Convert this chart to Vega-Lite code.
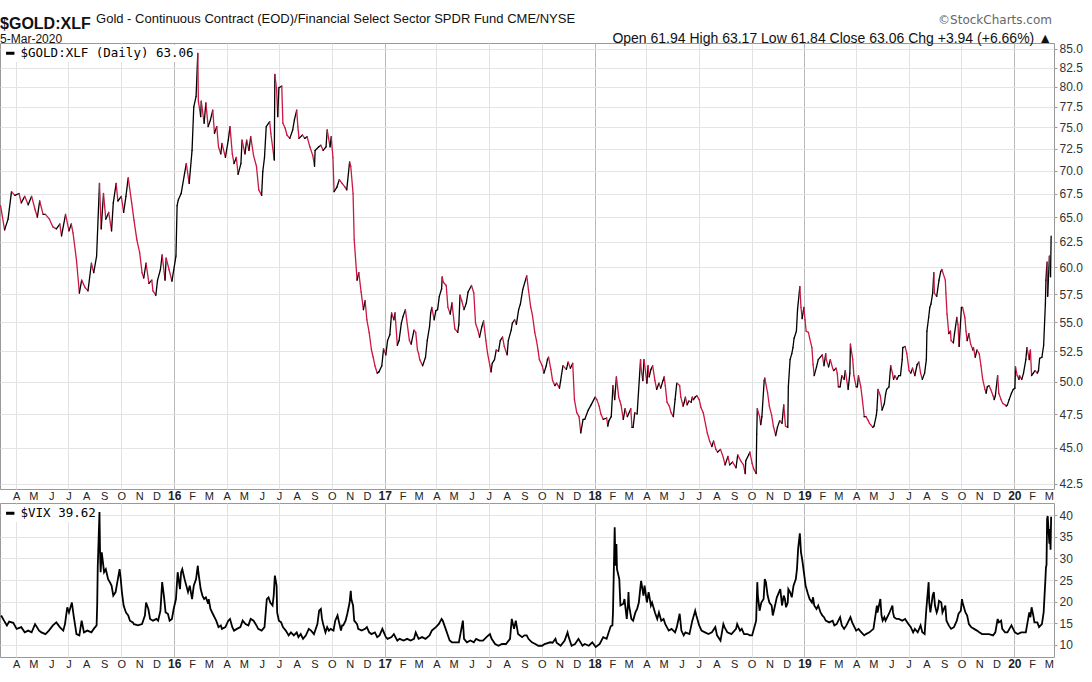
{
"$schema": "https://vega.github.io/schema/vega-lite/v6.json",
"padding": {"left": -3, "top": 13, "right": 0, "bottom": 0},
"background": "white",
"datasets": {
"gold": [
{"date":"2015-03-05","v":66.2},{"date":"2015-03-12","v":63.7},{"date":"2015-03-18","v":64.8},{"date":"2015-03-24","v":67.7},{"date":"2015-03-30","v":67.3},
{"date":"2015-04-06","v":67.5},{"date":"2015-04-10","v":66.5},{"date":"2015-04-16","v":67.2},{"date":"2015-04-22","v":66.3},{"date":"2015-04-28","v":67.2},
{"date":"2015-05-04","v":65.8},{"date":"2015-05-08","v":65.0},{"date":"2015-05-12","v":66.7},{"date":"2015-05-18","v":65.3},{"date":"2015-05-22","v":65.3},{"date":"2015-05-29","v":64.8},
{"date":"2015-06-04","v":64.0},{"date":"2015-06-10","v":63.8},{"date":"2015-06-16","v":64.3},{"date":"2015-06-19","v":63.1},{"date":"2015-06-26","v":65.3},
{"date":"2015-07-02","v":63.6},{"date":"2015-07-06","v":64.3},{"date":"2015-07-09","v":63.4},{"date":"2015-07-15","v":60.7},{"date":"2015-07-20","v":57.6},{"date":"2015-07-24","v":58.8},{"date":"2015-07-30","v":58.1},
{"date":"2015-08-04","v":57.8},{"date":"2015-08-10","v":60.4},{"date":"2015-08-14","v":59.5},{"date":"2015-08-19","v":61.1},{"date":"2015-08-24","v":68.6},{"date":"2015-08-27","v":63.8},{"date":"2015-08-31","v":67.5},
{"date":"2015-09-04","v":64.8},{"date":"2015-09-09","v":65.5},{"date":"2015-09-14","v":63.6},{"date":"2015-09-17","v":66.5},{"date":"2015-09-22","v":68.6},{"date":"2015-09-25","v":66.7},
{"date":"2015-10-01","v":67.2},{"date":"2015-10-05","v":65.5},{"date":"2015-10-09","v":67.2},{"date":"2015-10-13","v":69.2},{"date":"2015-10-19","v":66.5},{"date":"2015-10-23","v":64.7},{"date":"2015-10-28","v":62.7},
{"date":"2015-11-02","v":61.4},{"date":"2015-11-06","v":59.5},{"date":"2015-11-09","v":59.0},{"date":"2015-11-13","v":60.4},{"date":"2015-11-18","v":58.5},{"date":"2015-11-23","v":58.8},{"date":"2015-11-25","v":57.8},{"date":"2015-11-30","v":57.4},
{"date":"2015-12-03","v":58.8},{"date":"2015-12-08","v":59.8},{"date":"2015-12-11","v":61.2},{"date":"2015-12-16","v":58.8},{"date":"2015-12-18","v":60.9},{"date":"2015-12-23","v":59.8},{"date":"2015-12-28","v":58.7},
{"date":"2016-01-04","v":61.1},{"date":"2016-01-06","v":66.2},{"date":"2016-01-08","v":66.8},{"date":"2016-01-13","v":67.5},{"date":"2016-01-19","v":69.7},{"date":"2016-01-22","v":70.8},{"date":"2016-01-27","v":68.6},
{"date":"2016-02-01","v":72.3},{"date":"2016-02-04","v":77.5},{"date":"2016-02-08","v":78.8},{"date":"2016-02-11","v":84.4},{"date":"2016-02-12","v":78.2},{"date":"2016-02-16","v":76.3},{"date":"2016-02-17","v":78.2},{"date":"2016-02-22","v":75.5},{"date":"2016-02-25","v":78.0},{"date":"2016-02-29","v":75.1},
{"date":"2016-03-04","v":75.9},{"date":"2016-03-08","v":77.1},{"date":"2016-03-11","v":74.3},{"date":"2016-03-15","v":75.1},{"date":"2016-03-18","v":72.7},{"date":"2016-03-22","v":71.9},{"date":"2016-03-24","v":73.1},{"date":"2016-03-30","v":71.5},
{"date":"2016-04-04","v":73.5},{"date":"2016-04-07","v":75.1},{"date":"2016-04-11","v":71.9},{"date":"2016-04-14","v":70.8},{"date":"2016-04-18","v":71.5},{"date":"2016-04-21","v":69.6},{"date":"2016-04-26","v":70.8},{"date":"2016-04-28","v":73.5},
{"date":"2016-05-03","v":71.9},{"date":"2016-05-06","v":73.5},{"date":"2016-05-10","v":72.3},{"date":"2016-05-13","v":73.9},{"date":"2016-05-18","v":71.7},{"date":"2016-05-23","v":70.5},{"date":"2016-05-27","v":67.9},
{"date":"2016-06-01","v":67.3},{"date":"2016-06-03","v":69.9},{"date":"2016-06-06","v":71.5},{"date":"2016-06-09","v":75.1},{"date":"2016-06-15","v":75.7},{"date":"2016-06-17","v":74.3},{"date":"2016-06-23","v":71.2},{"date":"2016-06-24","v":81.6},{"date":"2016-06-27","v":79.7},{"date":"2016-06-29","v":76.3},
{"date":"2016-07-01","v":79.9},{"date":"2016-07-06","v":80.1},{"date":"2016-07-08","v":75.5},{"date":"2016-07-12","v":74.9},{"date":"2016-07-15","v":74.1},{"date":"2016-07-20","v":73.7},{"date":"2016-07-25","v":74.7},{"date":"2016-07-28","v":75.9},
{"date":"2016-08-01","v":77.1},{"date":"2016-08-03","v":75.1},{"date":"2016-08-05","v":73.7},{"date":"2016-08-11","v":74.1},{"date":"2016-08-15","v":73.7},{"date":"2016-08-19","v":73.9},{"date":"2016-08-24","v":72.7},{"date":"2016-08-29","v":71.7},
{"date":"2016-09-01","v":70.5},{"date":"2016-09-02","v":72.3},{"date":"2016-09-08","v":72.7},{"date":"2016-09-12","v":72.9},{"date":"2016-09-16","v":72.3},{"date":"2016-09-21","v":72.7},{"date":"2016-09-23","v":74.7},{"date":"2016-09-28","v":72.7},{"date":"2016-09-30","v":73.9},
{"date":"2016-10-03","v":71.5},{"date":"2016-10-05","v":67.7},{"date":"2016-10-10","v":68.2},{"date":"2016-10-14","v":69.0},{"date":"2016-10-19","v":68.6},{"date":"2016-10-24","v":68.2},{"date":"2016-10-27","v":67.9},
{"date":"2016-11-01","v":71.0},{"date":"2016-11-03","v":70.5},{"date":"2016-11-07","v":67.5},{"date":"2016-11-09","v":62.7},{"date":"2016-11-14","v":58.8},{"date":"2016-11-17","v":59.5},{"date":"2016-11-21","v":57.7},{"date":"2016-11-25","v":56.1},{"date":"2016-11-28","v":56.9},
{"date":"2016-12-01","v":55.2},{"date":"2016-12-05","v":54.1},{"date":"2016-12-09","v":52.6},{"date":"2016-12-12","v":52.0},{"date":"2016-12-15","v":51.3},{"date":"2016-12-19","v":50.7},{"date":"2016-12-22","v":50.8},{"date":"2016-12-27","v":51.3},{"date":"2016-12-30","v":52.7},
{"date":"2017-01-03","v":52.2},{"date":"2017-01-06","v":53.4},{"date":"2017-01-10","v":53.9},{"date":"2017-01-13","v":55.8},{"date":"2017-01-17","v":55.2},{"date":"2017-01-19","v":55.8},{"date":"2017-01-23","v":53.0},{"date":"2017-01-26","v":53.4},{"date":"2017-01-30","v":54.9},
{"date":"2017-02-02","v":55.5},{"date":"2017-02-06","v":56.1},{"date":"2017-02-13","v":53.4},{"date":"2017-02-16","v":53.1},{"date":"2017-02-21","v":54.3},{"date":"2017-02-24","v":54.1},{"date":"2017-02-27","v":52.6},
{"date":"2017-03-01","v":52.3},{"date":"2017-03-03","v":51.8},{"date":"2017-03-08","v":51.3},{"date":"2017-03-13","v":52.0},{"date":"2017-03-16","v":53.4},{"date":"2017-03-20","v":54.6},{"date":"2017-03-22","v":55.8},{"date":"2017-03-24","v":56.3},{"date":"2017-03-28","v":55.2},{"date":"2017-03-31","v":56.0},
{"date":"2017-04-03","v":56.1},{"date":"2017-04-06","v":57.3},{"date":"2017-04-10","v":58.0},{"date":"2017-04-11","v":59.1},{"date":"2017-04-13","v":58.6},{"date":"2017-04-18","v":58.3},{"date":"2017-04-21","v":56.3},{"date":"2017-04-25","v":55.7},{"date":"2017-04-28","v":56.7},
{"date":"2017-05-03","v":54.4},{"date":"2017-05-08","v":54.1},{"date":"2017-05-10","v":54.8},{"date":"2017-05-12","v":57.4},{"date":"2017-05-15","v":56.9},{"date":"2017-05-19","v":56.1},{"date":"2017-05-23","v":56.7},{"date":"2017-05-26","v":57.7},
{"date":"2017-06-01","v":58.3},{"date":"2017-06-05","v":57.6},{"date":"2017-06-08","v":54.9},{"date":"2017-06-12","v":54.3},{"date":"2017-06-15","v":53.7},{"date":"2017-06-19","v":54.6},{"date":"2017-06-22","v":55.1},{"date":"2017-06-26","v":53.4},{"date":"2017-06-29","v":52.3},
{"date":"2017-07-03","v":51.3},{"date":"2017-07-05","v":50.8},{"date":"2017-07-07","v":51.5},{"date":"2017-07-11","v":51.8},{"date":"2017-07-14","v":52.6},{"date":"2017-07-18","v":52.5},{"date":"2017-07-21","v":53.4},{"date":"2017-07-25","v":53.7},{"date":"2017-07-28","v":52.9},
{"date":"2017-08-02","v":52.2},{"date":"2017-08-04","v":53.4},{"date":"2017-08-09","v":54.3},{"date":"2017-08-11","v":54.9},{"date":"2017-08-15","v":55.2},{"date":"2017-08-18","v":54.8},{"date":"2017-08-22","v":56.1},{"date":"2017-08-25","v":56.6},{"date":"2017-08-29","v":57.9},
{"date":"2017-09-05","v":59.2},{"date":"2017-09-06","v":58.8},{"date":"2017-09-08","v":57.9},{"date":"2017-09-12","v":56.3},{"date":"2017-09-15","v":55.6},{"date":"2017-09-19","v":54.1},{"date":"2017-09-22","v":53.4},{"date":"2017-09-25","v":52.5},{"date":"2017-09-27","v":51.8},
{"date":"2017-10-02","v":51.3},{"date":"2017-10-05","v":50.7},{"date":"2017-10-09","v":51.3},{"date":"2017-10-11","v":51.8},{"date":"2017-10-13","v":52.0},{"date":"2017-10-17","v":51.0},{"date":"2017-10-20","v":50.1},{"date":"2017-10-24","v":49.7},{"date":"2017-10-27","v":49.9},
{"date":"2017-11-01","v":49.5},{"date":"2017-11-03","v":50.1},{"date":"2017-11-07","v":51.3},{"date":"2017-11-13","v":51.0},{"date":"2017-11-16","v":51.6},{"date":"2017-11-20","v":51.1},{"date":"2017-11-24","v":51.5},{"date":"2017-11-27","v":48.6},
{"date":"2017-12-01","v":47.6},{"date":"2017-12-05","v":47.3},{"date":"2017-12-08","v":46.1},{"date":"2017-12-12","v":47.1},{"date":"2017-12-15","v":47.1},{"date":"2017-12-21","v":47.8},{"date":"2017-12-26","v":48.2},
{"date":"2018-01-02","v":48.8},{"date":"2018-01-05","v":48.6},{"date":"2018-01-09","v":48.1},{"date":"2018-01-12","v":47.5},{"date":"2018-01-16","v":47.1},{"date":"2018-01-22","v":47.2},{"date":"2018-01-24","v":46.6},{"date":"2018-01-26","v":47.0},{"date":"2018-01-30","v":47.3},
{"date":"2018-02-02","v":49.7},{"date":"2018-02-05","v":48.6},{"date":"2018-02-08","v":50.4},{"date":"2018-02-12","v":48.8},{"date":"2018-02-14","v":48.5},{"date":"2018-02-16","v":48.2},{"date":"2018-02-20","v":47.1},{"date":"2018-02-23","v":47.9},{"date":"2018-02-27","v":47.3},
{"date":"2018-03-05","v":47.9},{"date":"2018-03-07","v":46.5},{"date":"2018-03-09","v":46.5},{"date":"2018-03-12","v":47.6},{"date":"2018-03-16","v":47.5},{"date":"2018-03-22","v":51.8},{"date":"2018-03-23","v":51.0},{"date":"2018-03-26","v":50.1},{"date":"2018-03-28","v":51.8},
{"date":"2018-04-02","v":49.9},{"date":"2018-04-04","v":51.3},{"date":"2018-04-06","v":50.4},{"date":"2018-04-09","v":51.0},{"date":"2018-04-12","v":51.3},{"date":"2018-04-16","v":50.1},{"date":"2018-04-19","v":49.4},{"date":"2018-04-23","v":49.9},{"date":"2018-04-26","v":49.5},{"date":"2018-04-30","v":50.1},
{"date":"2018-05-02","v":50.4},{"date":"2018-05-04","v":49.7},{"date":"2018-05-07","v":48.4},{"date":"2018-05-11","v":48.1},{"date":"2018-05-14","v":47.6},{"date":"2018-05-18","v":47.3},{"date":"2018-05-21","v":48.6},{"date":"2018-05-24","v":49.9},{"date":"2018-05-29","v":49.7},{"date":"2018-05-31","v":48.8},
{"date":"2018-06-04","v":48.1},{"date":"2018-06-06","v":48.4},{"date":"2018-06-08","v":48.8},{"date":"2018-06-11","v":48.2},{"date":"2018-06-14","v":48.5},{"date":"2018-06-18","v":48.4},{"date":"2018-06-20","v":48.8},{"date":"2018-06-22","v":48.6},{"date":"2018-06-25","v":48.8},{"date":"2018-06-28","v":48.9},
{"date":"2018-07-02","v":48.6},{"date":"2018-07-05","v":48.0},{"date":"2018-07-09","v":47.6},{"date":"2018-07-16","v":46.1},{"date":"2018-07-20","v":45.5},{"date":"2018-07-24","v":45.1},{"date":"2018-07-27","v":45.5},{"date":"2018-07-31","v":44.9},
{"date":"2018-08-03","v":44.7},{"date":"2018-08-08","v":44.9},{"date":"2018-08-13","v":44.3},{"date":"2018-08-16","v":43.8},{"date":"2018-08-21","v":44.4},{"date":"2018-08-24","v":43.8},{"date":"2018-08-29","v":44.0},
{"date":"2018-09-04","v":43.6},{"date":"2018-09-07","v":44.5},{"date":"2018-09-12","v":44.1},{"date":"2018-09-17","v":43.8},{"date":"2018-09-20","v":43.2},{"date":"2018-09-21","v":44.1},{"date":"2018-09-26","v":44.5},{"date":"2018-09-28","v":44.7},
{"date":"2018-10-02","v":43.9},{"date":"2018-10-05","v":43.5},{"date":"2018-10-09","v":43.2},{"date":"2018-10-10","v":46.0},{"date":"2018-10-11","v":47.9},{"date":"2018-10-15","v":47.3},{"date":"2018-10-17","v":46.7},{"date":"2018-10-19","v":47.3},{"date":"2018-10-23","v":50.1},{"date":"2018-10-24","v":50.3},{"date":"2018-10-29","v":49.1},
{"date":"2018-11-01","v":48.1},{"date":"2018-11-05","v":47.4},{"date":"2018-11-08","v":46.6},{"date":"2018-11-12","v":45.9},{"date":"2018-11-15","v":46.5},{"date":"2018-11-19","v":47.0},{"date":"2018-11-23","v":46.8},{"date":"2018-11-26","v":48.2},{"date":"2018-11-29","v":46.6},
{"date":"2018-12-03","v":46.5},{"date":"2018-12-04","v":49.6},{"date":"2018-12-07","v":51.8},{"date":"2018-12-10","v":52.3},{"date":"2018-12-12","v":52.8},{"date":"2018-12-14","v":53.6},{"date":"2018-12-18","v":54.2},{"date":"2018-12-20","v":56.1},{"date":"2018-12-24","v":58.2},{"date":"2018-12-26","v":56.3},{"date":"2018-12-28","v":55.3},{"date":"2018-12-31","v":56.3},
{"date":"2019-01-02","v":55.2},{"date":"2019-01-04","v":54.2},{"date":"2019-01-08","v":54.1},{"date":"2019-01-10","v":53.6},{"date":"2019-01-14","v":52.8},{"date":"2019-01-16","v":51.4},{"date":"2019-01-18","v":50.5},{"date":"2019-01-22","v":51.2},{"date":"2019-01-25","v":51.8},
{"date":"2019-02-01","v":52.2},{"date":"2019-02-04","v":51.3},{"date":"2019-02-07","v":52.3},{"date":"2019-02-08","v":51.8},{"date":"2019-02-12","v":51.2},{"date":"2019-02-15","v":51.8},{"date":"2019-02-19","v":51.1},{"date":"2019-02-21","v":50.9},{"date":"2019-02-25","v":51.1},{"date":"2019-02-27","v":50.7},
{"date":"2019-03-01","v":49.6},{"date":"2019-03-04","v":49.6},{"date":"2019-03-07","v":50.5},{"date":"2019-03-11","v":50.2},{"date":"2019-03-13","v":50.9},{"date":"2019-03-18","v":49.4},{"date":"2019-03-21","v":50.7},{"date":"2019-03-22","v":53.1},{"date":"2019-03-26","v":51.8},{"date":"2019-03-28","v":50.5},
{"date":"2019-04-01","v":49.6},{"date":"2019-04-03","v":49.6},{"date":"2019-04-05","v":50.5},{"date":"2019-04-09","v":49.6},{"date":"2019-04-12","v":48.5},{"date":"2019-04-15","v":47.3},{"date":"2019-04-18","v":47.3},{"date":"2019-04-22","v":47.0},{"date":"2019-04-24","v":46.8},{"date":"2019-04-26","v":46.7},{"date":"2019-04-30","v":46.5},
{"date":"2019-05-02","v":46.6},{"date":"2019-05-06","v":47.4},{"date":"2019-05-07","v":47.8},{"date":"2019-05-09","v":49.4},{"date":"2019-05-13","v":48.9},{"date":"2019-05-16","v":47.8},{"date":"2019-05-20","v":48.3},{"date":"2019-05-22","v":49.0},{"date":"2019-05-24","v":49.4},{"date":"2019-05-28","v":49.6},{"date":"2019-05-31","v":51.3},
{"date":"2019-06-03","v":50.7},{"date":"2019-06-05","v":50.2},{"date":"2019-06-07","v":50.5},{"date":"2019-06-11","v":50.2},{"date":"2019-06-14","v":50.5},{"date":"2019-06-17","v":50.5},{"date":"2019-06-20","v":51.8},{"date":"2019-06-21","v":52.8},{"date":"2019-06-25","v":52.9},{"date":"2019-06-28","v":52.3},
{"date":"2019-07-02","v":50.9},{"date":"2019-07-05","v":50.7},{"date":"2019-07-08","v":51.1},{"date":"2019-07-10","v":50.8},{"date":"2019-07-12","v":50.5},{"date":"2019-07-16","v":51.4},{"date":"2019-07-19","v":51.6},{"date":"2019-07-22","v":50.7},{"date":"2019-07-25","v":50.2},{"date":"2019-07-29","v":50.7},
{"date":"2019-08-01","v":51.8},{"date":"2019-08-02","v":54.2},{"date":"2019-08-05","v":55.4},{"date":"2019-08-07","v":56.3},{"date":"2019-08-09","v":56.6},{"date":"2019-08-12","v":57.6},{"date":"2019-08-14","v":59.5},{"date":"2019-08-15","v":57.6},{"date":"2019-08-19","v":57.3},{"date":"2019-08-23","v":58.8},{"date":"2019-08-26","v":59.6},{"date":"2019-08-28","v":59.8},
{"date":"2019-09-03","v":58.8},{"date":"2019-09-04","v":57.6},{"date":"2019-09-06","v":55.7},{"date":"2019-09-09","v":54.0},{"date":"2019-09-12","v":54.2},{"date":"2019-09-13","v":53.4},{"date":"2019-09-17","v":53.2},{"date":"2019-09-19","v":54.0},{"date":"2019-09-23","v":55.4},{"date":"2019-09-25","v":54.8},{"date":"2019-09-27","v":52.9},
{"date":"2019-10-01","v":56.3},{"date":"2019-10-03","v":56.3},{"date":"2019-10-07","v":55.4},{"date":"2019-10-09","v":54.2},{"date":"2019-10-11","v":53.4},{"date":"2019-10-14","v":54.0},{"date":"2019-10-17","v":53.1},{"date":"2019-10-21","v":52.6},{"date":"2019-10-22","v":52.8},{"date":"2019-10-25","v":52.0},{"date":"2019-10-28","v":52.6},
{"date":"2019-11-01","v":52.3},{"date":"2019-11-04","v":51.3},{"date":"2019-11-07","v":50.2},{"date":"2019-11-11","v":49.4},{"date":"2019-11-13","v":49.1},{"date":"2019-11-15","v":49.6},{"date":"2019-11-18","v":49.7},{"date":"2019-11-21","v":49.4},{"date":"2019-11-25","v":48.9},{"date":"2019-11-27","v":48.6},{"date":"2019-11-29","v":48.9},
{"date":"2019-12-03","v":50.5},{"date":"2019-12-05","v":49.1},{"date":"2019-12-09","v":48.6},{"date":"2019-12-12","v":48.3},{"date":"2019-12-16","v":48.2},{"date":"2019-12-18","v":48.1},{"date":"2019-12-20","v":48.2},{"date":"2019-12-23","v":48.6},{"date":"2019-12-27","v":49.1},{"date":"2019-12-30","v":49.4},
{"date":"2020-01-02","v":49.5},{"date":"2020-01-03","v":51.2},{"date":"2020-01-06","v":50.5},{"date":"2020-01-09","v":50.2},{"date":"2020-01-10","v":50.5},{"date":"2020-01-14","v":50.2},{"date":"2020-01-17","v":50.7},{"date":"2020-01-21","v":51.8},{"date":"2020-01-23","v":52.8},{"date":"2020-01-27","v":51.8},{"date":"2020-01-29","v":52.6},{"date":"2020-01-31","v":50.5},
{"date":"2020-02-03","v":50.7},{"date":"2020-02-06","v":50.9},{"date":"2020-02-10","v":50.7},{"date":"2020-02-12","v":50.9},{"date":"2020-02-14","v":51.9},{"date":"2020-02-18","v":52.0},{"date":"2020-02-21","v":53.0},{"date":"2020-02-24","v":56.6},{"date":"2020-02-25","v":58.8},{"date":"2020-02-26","v":59.8},{"date":"2020-02-27","v":60.5},{"date":"2020-02-28","v":57.3},
{"date":"2020-03-02","v":61.1},{"date":"2020-03-03","v":60.0},{"date":"2020-03-04","v":59.12},{"date":"2020-03-05","v":63.06}
],
"vix": [
{"date":"2015-03-06","v":16.8},{"date":"2015-03-11","v":15.6},{"date":"2015-03-16","v":14.5},{"date":"2015-03-20","v":15.4},{"date":"2015-03-27","v":15.1},
{"date":"2015-04-02","v":13.7},{"date":"2015-04-10","v":14.1},{"date":"2015-04-16","v":12.9},{"date":"2015-04-22","v":13.3},{"date":"2015-04-28","v":12.9},
{"date":"2015-05-04","v":14.8},{"date":"2015-05-11","v":13.3},{"date":"2015-05-15","v":12.9},{"date":"2015-05-22","v":12.5},{"date":"2015-05-28","v":13.3},
{"date":"2015-06-04","v":14.5},{"date":"2015-06-10","v":15.2},{"date":"2015-06-16","v":14.1},{"date":"2015-06-22","v":13.3},{"date":"2015-06-25","v":14.8},{"date":"2015-06-29","v":18.7},
{"date":"2015-07-02","v":17.5},{"date":"2015-07-07","v":19.8},{"date":"2015-07-10","v":16.8},{"date":"2015-07-15","v":12.5},{"date":"2015-07-20","v":12.2},{"date":"2015-07-24","v":15.6},{"date":"2015-07-28","v":12.9},
{"date":"2015-08-03","v":13.3},{"date":"2015-08-10","v":12.9},{"date":"2015-08-14","v":13.7},{"date":"2015-08-19","v":14.5},{"date":"2015-08-20","v":19.1},{"date":"2015-08-21","v":28.0},{"date":"2015-08-24","v":40.7},{"date":"2015-08-25","v":31.4},{"date":"2015-08-26","v":26.8},{"date":"2015-08-28","v":31.4},
{"date":"2015-09-01","v":26.8},{"date":"2015-09-04","v":27.5},{"date":"2015-09-08","v":25.2},{"date":"2015-09-11","v":24.5},{"date":"2015-09-14","v":23.7},{"date":"2015-09-17","v":21.4},{"date":"2015-09-21","v":22.2},{"date":"2015-09-23","v":23.7},{"date":"2015-09-25","v":25.2},{"date":"2015-09-28","v":27.5},{"date":"2015-09-30","v":25.2},
{"date":"2015-10-02","v":22.2},{"date":"2015-10-05","v":19.1},{"date":"2015-10-09","v":17.5},{"date":"2015-10-13","v":16.8},{"date":"2015-10-16","v":15.6},{"date":"2015-10-21","v":15.2},{"date":"2015-10-23","v":14.8},{"date":"2015-10-30","v":14.5},
{"date":"2015-11-06","v":14.8},{"date":"2015-11-11","v":16.8},{"date":"2015-11-13","v":19.8},{"date":"2015-11-17","v":18.3},{"date":"2015-11-20","v":16.0},{"date":"2015-11-25","v":15.6},
{"date":"2015-12-01","v":16.0},{"date":"2015-12-04","v":15.6},{"date":"2015-12-08","v":17.9},{"date":"2015-12-11","v":24.5},{"date":"2015-12-14","v":21.4},{"date":"2015-12-17","v":17.5},{"date":"2015-12-21","v":17.2},{"date":"2015-12-24","v":15.6},{"date":"2015-12-28","v":16.0},{"date":"2015-12-31","v":18.3},
{"date":"2016-01-04","v":20.6},{"date":"2016-01-07","v":26.8},{"date":"2016-01-11","v":22.9},{"date":"2016-01-13","v":26.8},{"date":"2016-01-15","v":27.5},{"date":"2016-01-19","v":25.2},{"date":"2016-01-22","v":23.7},{"date":"2016-01-25","v":22.2},{"date":"2016-01-28","v":23.7},
{"date":"2016-02-01","v":20.6},{"date":"2016-02-04","v":23.7},{"date":"2016-02-08","v":25.2},{"date":"2016-02-11","v":28.3},{"date":"2016-02-12","v":26.8},{"date":"2016-02-16","v":22.9},{"date":"2016-02-19","v":21.4},{"date":"2016-02-22","v":20.6},{"date":"2016-02-25","v":21.0},{"date":"2016-02-29","v":19.5},
{"date":"2016-03-01","v":20.6},{"date":"2016-03-04","v":18.3},{"date":"2016-03-08","v":17.2},{"date":"2016-03-14","v":15.6},{"date":"2016-03-18","v":14.1},{"date":"2016-03-22","v":14.5},{"date":"2016-03-24","v":13.7},{"date":"2016-03-30","v":14.1},
{"date":"2016-04-04","v":15.6},{"date":"2016-04-07","v":16.0},{"date":"2016-04-11","v":14.1},{"date":"2016-04-14","v":13.3},{"date":"2016-04-19","v":13.7},{"date":"2016-04-25","v":14.1},{"date":"2016-04-29","v":15.6},
{"date":"2016-05-04","v":14.8},{"date":"2016-05-09","v":14.5},{"date":"2016-05-13","v":16.0},{"date":"2016-05-18","v":15.6},{"date":"2016-05-23","v":14.5},{"date":"2016-05-26","v":13.7},
{"date":"2016-06-01","v":13.3},{"date":"2016-06-06","v":14.1},{"date":"2016-06-10","v":20.6},{"date":"2016-06-13","v":21.0},{"date":"2016-06-16","v":19.8},{"date":"2016-06-20","v":19.1},{"date":"2016-06-22","v":21.4},{"date":"2016-06-24","v":26.0},{"date":"2016-06-27","v":23.7},{"date":"2016-06-28","v":17.5},
{"date":"2016-07-01","v":15.6},{"date":"2016-07-05","v":15.2},{"date":"2016-07-08","v":14.1},{"date":"2016-07-13","v":13.3},{"date":"2016-07-18","v":12.2},{"date":"2016-07-22","v":12.9},{"date":"2016-07-27","v":12.2},
{"date":"2016-08-01","v":12.9},{"date":"2016-08-04","v":11.8},{"date":"2016-08-08","v":12.5},{"date":"2016-08-12","v":11.4},{"date":"2016-08-17","v":12.2},{"date":"2016-08-22","v":13.7},{"date":"2016-08-26","v":13.3},{"date":"2016-08-31","v":12.5},
{"date":"2016-09-06","v":14.8},{"date":"2016-09-09","v":17.9},{"date":"2016-09-12","v":18.3},{"date":"2016-09-14","v":16.0},{"date":"2016-09-16","v":14.8},{"date":"2016-09-20","v":12.9},{"date":"2016-09-23","v":14.1},{"date":"2016-09-26","v":13.3},{"date":"2016-09-29","v":13.7},
{"date":"2016-10-04","v":13.3},{"date":"2016-10-07","v":15.6},{"date":"2016-10-11","v":16.8},{"date":"2016-10-13","v":15.6},{"date":"2016-10-17","v":13.3},{"date":"2016-10-19","v":14.5},{"date":"2016-10-21","v":14.5},{"date":"2016-10-25","v":15.6},{"date":"2016-10-28","v":17.2},
{"date":"2016-11-01","v":19.8},{"date":"2016-11-03","v":22.5},{"date":"2016-11-04","v":20.6},{"date":"2016-11-07","v":19.1},{"date":"2016-11-09","v":15.6},{"date":"2016-11-14","v":14.8},{"date":"2016-11-16","v":13.7},{"date":"2016-11-22","v":13.3},{"date":"2016-11-28","v":13.7},
{"date":"2016-12-01","v":14.1},{"date":"2016-12-05","v":12.9},{"date":"2016-12-09","v":12.5},{"date":"2016-12-15","v":12.9},{"date":"2016-12-19","v":11.8},{"date":"2016-12-23","v":12.2},{"date":"2016-12-28","v":13.7},
{"date":"2017-01-03","v":11.8},{"date":"2017-01-06","v":11.4},{"date":"2017-01-13","v":11.8},{"date":"2017-01-17","v":12.5},{"date":"2017-01-23","v":11.0},{"date":"2017-01-27","v":11.4},
{"date":"2017-02-03","v":11.0},{"date":"2017-02-09","v":11.4},{"date":"2017-02-15","v":11.0},{"date":"2017-02-21","v":11.4},{"date":"2017-02-24","v":12.9},
{"date":"2017-03-01","v":11.4},{"date":"2017-03-07","v":11.8},{"date":"2017-03-13","v":11.4},{"date":"2017-03-20","v":12.2},{"date":"2017-03-24","v":13.3},{"date":"2017-03-31","v":14.1},
{"date":"2017-04-05","v":14.8},{"date":"2017-04-10","v":16.0},{"date":"2017-04-12","v":15.6},{"date":"2017-04-17","v":13.7},{"date":"2017-04-24","v":11.0},{"date":"2017-04-28","v":10.6},
{"date":"2017-05-04","v":10.6},{"date":"2017-05-10","v":10.6},{"date":"2017-05-17","v":15.6},{"date":"2017-05-19","v":11.4},{"date":"2017-05-24","v":10.6},{"date":"2017-05-30","v":11.0},
{"date":"2017-06-05","v":10.6},{"date":"2017-06-09","v":11.4},{"date":"2017-06-15","v":11.0},{"date":"2017-06-21","v":11.0},{"date":"2017-06-27","v":11.8},
{"date":"2017-07-03","v":12.5},{"date":"2017-07-06","v":11.4},{"date":"2017-07-12","v":10.2},{"date":"2017-07-18","v":9.8},{"date":"2017-07-24","v":10.2},{"date":"2017-07-31","v":10.2},
{"date":"2017-08-07","v":11.4},{"date":"2017-08-10","v":16.0},{"date":"2017-08-14","v":13.7},{"date":"2017-08-17","v":15.6},{"date":"2017-08-21","v":12.5},{"date":"2017-08-28","v":11.8},
{"date":"2017-09-01","v":12.2},{"date":"2017-09-05","v":12.2},{"date":"2017-09-08","v":11.4},{"date":"2017-09-14","v":10.6},{"date":"2017-09-20","v":10.2},{"date":"2017-09-25","v":9.8},
{"date":"2017-10-02","v":9.8},{"date":"2017-10-06","v":10.2},{"date":"2017-10-16","v":10.6},{"date":"2017-10-20","v":10.5},{"date":"2017-10-25","v":11.4},{"date":"2017-10-27","v":10.5},
{"date":"2017-11-03","v":9.8},{"date":"2017-11-10","v":11.0},{"date":"2017-11-15","v":12.9},{"date":"2017-11-17","v":11.8},{"date":"2017-11-22","v":9.8},{"date":"2017-11-28","v":10.2},
{"date":"2017-12-04","v":11.4},{"date":"2017-12-11","v":9.8},{"date":"2017-12-15","v":10.2},{"date":"2017-12-22","v":9.8},{"date":"2017-12-28","v":10.6},
{"date":"2018-01-03","v":9.5},{"date":"2018-01-10","v":10.2},{"date":"2018-01-16","v":11.8},{"date":"2018-01-22","v":11.4},{"date":"2018-01-29","v":14.3},
{"date":"2018-02-01","v":14.5},{"date":"2018-02-02","v":17.3},{"date":"2018-02-05","v":37.2},{"date":"2018-02-06","v":30.6},{"date":"2018-02-07","v":28.3},{"date":"2018-02-08","v":33.3},{"date":"2018-02-09","v":27.5},{"date":"2018-02-13","v":25.2},{"date":"2018-02-15","v":19.1},{"date":"2018-02-20","v":19.5},{"date":"2018-02-22","v":20.6},{"date":"2018-02-26","v":16.0},{"date":"2018-02-28","v":19.1},
{"date":"2018-03-01","v":22.2},{"date":"2018-03-02","v":19.1},{"date":"2018-03-06","v":16.0},{"date":"2018-03-09","v":15.6},{"date":"2018-03-13","v":17.5},{"date":"2018-03-16","v":18.3},{"date":"2018-03-19","v":19.8},{"date":"2018-03-22","v":23.7},{"date":"2018-03-23","v":24.8},{"date":"2018-03-27","v":21.4},{"date":"2018-03-29","v":23.7},
{"date":"2018-04-02","v":19.8},{"date":"2018-04-05","v":22.2},{"date":"2018-04-09","v":19.1},{"date":"2018-04-11","v":19.8},{"date":"2018-04-16","v":17.5},{"date":"2018-04-20","v":16.0},{"date":"2018-04-23","v":17.5},{"date":"2018-04-27","v":15.6},
{"date":"2018-05-01","v":16.0},{"date":"2018-05-04","v":14.8},{"date":"2018-05-10","v":13.3},{"date":"2018-05-15","v":13.7},{"date":"2018-05-21","v":12.9},{"date":"2018-05-24","v":14.1},{"date":"2018-05-29","v":17.2},
{"date":"2018-06-01","v":13.3},{"date":"2018-06-05","v":12.2},{"date":"2018-06-08","v":12.9},{"date":"2018-06-15","v":12.5},{"date":"2018-06-20","v":15.6},{"date":"2018-06-25","v":17.9},{"date":"2018-06-27","v":16.8},
{"date":"2018-07-02","v":14.5},{"date":"2018-07-06","v":13.3},{"date":"2018-07-12","v":12.9},{"date":"2018-07-18","v":12.5},{"date":"2018-07-24","v":12.9},{"date":"2018-07-30","v":14.1},
{"date":"2018-08-02","v":12.2},{"date":"2018-08-08","v":11.0},{"date":"2018-08-13","v":14.8},{"date":"2018-08-15","v":14.1},{"date":"2018-08-20","v":12.9},{"date":"2018-08-27","v":12.5},
{"date":"2018-09-04","v":13.7},{"date":"2018-09-06","v":14.8},{"date":"2018-09-11","v":13.3},{"date":"2018-09-14","v":13.7},{"date":"2018-09-18","v":12.5},{"date":"2018-09-24","v":12.5},{"date":"2018-09-28","v":12.2},
{"date":"2018-10-02","v":12.2},{"date":"2018-10-09","v":15.6},{"date":"2018-10-11","v":24.5},{"date":"2018-10-12","v":21.4},{"date":"2018-10-15","v":17.9},{"date":"2018-10-18","v":19.8},{"date":"2018-10-22","v":20.6},{"date":"2018-10-24","v":25.2},{"date":"2018-10-26","v":24.5},{"date":"2018-10-29","v":21.4},
{"date":"2018-11-01","v":19.8},{"date":"2018-11-05","v":19.1},{"date":"2018-11-07","v":16.8},{"date":"2018-11-12","v":19.8},{"date":"2018-11-14","v":21.0},{"date":"2018-11-20","v":22.9},{"date":"2018-11-23","v":19.1},{"date":"2018-11-26","v":21.4},{"date":"2018-11-28","v":20.6},{"date":"2018-11-30","v":18.7},
{"date":"2018-12-03","v":19.8},{"date":"2018-12-04","v":22.9},{"date":"2018-12-07","v":22.2},{"date":"2018-12-10","v":21.0},{"date":"2018-12-13","v":23.7},{"date":"2018-12-17","v":25.2},{"date":"2018-12-19","v":27.5},{"date":"2018-12-21","v":32.2},{"date":"2018-12-24","v":35.8},{"date":"2018-12-26","v":31.4},{"date":"2018-12-28","v":29.8},{"date":"2018-12-31","v":26.8},
{"date":"2019-01-03","v":23.7},{"date":"2019-01-07","v":21.8},{"date":"2019-01-10","v":20.6},{"date":"2019-01-14","v":19.8},{"date":"2019-01-16","v":21.0},{"date":"2019-01-18","v":19.1},{"date":"2019-01-22","v":18.3},{"date":"2019-01-25","v":19.1},{"date":"2019-01-29","v":17.5},
{"date":"2019-02-01","v":16.8},{"date":"2019-02-04","v":16.4},{"date":"2019-02-07","v":15.6},{"date":"2019-02-13","v":15.2},{"date":"2019-02-19","v":15.6},{"date":"2019-02-22","v":14.5},{"date":"2019-02-26","v":14.8},
{"date":"2019-03-04","v":16.4},{"date":"2019-03-07","v":14.5},{"date":"2019-03-11","v":13.7},{"date":"2019-03-15","v":14.5},{"date":"2019-03-22","v":16.4},{"date":"2019-03-25","v":15.2},{"date":"2019-03-29","v":14.1},
{"date":"2019-04-01","v":13.3},{"date":"2019-04-05","v":13.7},{"date":"2019-04-10","v":12.9},{"date":"2019-04-15","v":12.2},{"date":"2019-04-18","v":12.5},{"date":"2019-04-24","v":12.9},
{"date":"2019-05-01","v":13.7},{"date":"2019-05-07","v":19.1},{"date":"2019-05-08","v":17.5},{"date":"2019-05-13","v":20.6},{"date":"2019-05-15","v":16.8},{"date":"2019-05-17","v":15.6},{"date":"2019-05-20","v":16.4},{"date":"2019-05-22","v":15.6},{"date":"2019-05-28","v":17.2},
{"date":"2019-06-03","v":19.1},{"date":"2019-06-04","v":17.5},{"date":"2019-06-06","v":16.4},{"date":"2019-06-10","v":16.0},{"date":"2019-06-14","v":16.0},{"date":"2019-06-20","v":15.6},{"date":"2019-06-25","v":16.0},
{"date":"2019-07-01","v":14.8},{"date":"2019-07-05","v":14.1},{"date":"2019-07-09","v":12.9},{"date":"2019-07-12","v":13.7},{"date":"2019-07-17","v":12.9},{"date":"2019-07-22","v":14.5},{"date":"2019-07-25","v":12.9},{"date":"2019-07-29","v":12.5},
{"date":"2019-08-01","v":18.3},{"date":"2019-08-05","v":24.5},{"date":"2019-08-06","v":19.8},{"date":"2019-08-08","v":17.5},{"date":"2019-08-12","v":21.4},{"date":"2019-08-14","v":22.2},{"date":"2019-08-16","v":19.1},{"date":"2019-08-19","v":17.5},{"date":"2019-08-21","v":18.3},{"date":"2019-08-23","v":20.2},{"date":"2019-08-27","v":19.8},{"date":"2019-08-29","v":17.5},
{"date":"2019-09-03","v":19.1},{"date":"2019-09-05","v":15.6},{"date":"2019-09-09","v":14.5},{"date":"2019-09-13","v":13.7},{"date":"2019-09-18","v":14.1},{"date":"2019-09-23","v":15.6},{"date":"2019-09-26","v":17.2},{"date":"2019-09-30","v":17.9},
{"date":"2019-10-02","v":20.6},{"date":"2019-10-03","v":19.8},{"date":"2019-10-08","v":17.5},{"date":"2019-10-11","v":16.8},{"date":"2019-10-14","v":14.8},{"date":"2019-10-18","v":14.1},{"date":"2019-10-23","v":13.7},{"date":"2019-10-28","v":13.3},
{"date":"2019-11-01","v":12.9},{"date":"2019-11-06","v":12.5},{"date":"2019-11-12","v":12.5},{"date":"2019-11-18","v":12.5},{"date":"2019-11-25","v":12.2},{"date":"2019-11-29","v":12.9},
{"date":"2019-12-03","v":16.0},{"date":"2019-12-05","v":15.2},{"date":"2019-12-09","v":15.6},{"date":"2019-12-11","v":13.7},{"date":"2019-12-16","v":12.9},{"date":"2019-12-20","v":12.9},{"date":"2019-12-27","v":14.5},{"date":"2019-12-30","v":13.7},
{"date":"2020-01-02","v":12.9},{"date":"2020-01-07","v":12.5},{"date":"2020-01-13","v":12.9},{"date":"2020-01-21","v":12.9},{"date":"2020-01-27","v":17.5},{"date":"2020-01-29","v":16.4},{"date":"2020-01-31","v":18.7},
{"date":"2020-02-03","v":16.8},{"date":"2020-02-05","v":15.2},{"date":"2020-02-10","v":15.2},{"date":"2020-02-13","v":14.1},{"date":"2020-02-18","v":14.8},{"date":"2020-02-21","v":17.5},{"date":"2020-02-24","v":25.0},{"date":"2020-02-25","v":27.9},{"date":"2020-02-26","v":28.5},{"date":"2020-02-27","v":39.1},{"date":"2020-02-28","v":39.8},
{"date":"2020-03-02","v":33.4},{"date":"2020-03-03","v":36.8},{"date":"2020-03-04","v":32.0},{"date":"2020-03-05","v":39.6}
]
},
"title": {"text": "$GOLD:XLF", "subtitle": "5-Mar-2020", "anchor": "start", "dx": 3, "font": "Liberation Sans", "fontSize": 16, "fontWeight": "bold", "color": "#111111", "subtitleFont": "Liberation Sans", "subtitleFontSize": 12, "subtitleColor": "#111111", "subtitlePadding": 2, "offset": -32},
"vconcat": [
{
"title": {"text": "Gold - Continuous Contract (EOD)/Financial Select Sector SPDR Fund  CME/NYSE", "anchor": "start", "dx": 99, "offset": -13, "font": "Liberation Sans", "fontSize": 13, "fontWeight": "normal", "color": "#111111"},
"spacing": 0,
"resolve": {"scale": {"color": "independent"}, "legend": {"color": "independent"}},
"vconcat": [
{
"width": 1054,
"height": 446,
"title": {"text": "©StockCharts.com", "subtitle": "Open 61.94  High 63.17  Low 61.84  Close 63.06  Chg +3.94 (+6.66%) ▲", "anchor": "end", "frame": "group", "font": "DejaVu Sans", "fontSize": 12, "fontWeight": "normal", "color": "#666666", "subtitleFont": "Liberation Sans", "subtitleFontSize": 14, "subtitleColor": "#111111", "subtitlePadding": 5, "offset": -4, "dx": -2},
"data": {"name": "gold"},
"transform": [
{"window": [{"op": "lead", "field": "v", "as": "v2"}, {"op": "lead", "field": "date", "as": "date2"}], "sort": [{"field": "date", "order": "ascending"}]},
{"filter": "datum.v2 != null"}
],
"mark": {"type": "rule", "strokeWidth": 1.3, "strokeCap": "round"},
"encoding": {
"x": {"field": "date", "type": "temporal", "scale": {"domain": ["2015-03-04", "2020-03-10"], "nice": false},
"axis": {"title": null, "orient": "bottom", "tickCount": {"interval": "month", "step": 1}, "labelExpr": "month(datum.value)==0 ? timeFormat(datum.value,'%y') : slice(timeFormat(datum.value,'%b'),0,1)", "labelFontWeight": {"condition": {"test": "month(datum.value)==0", "value": "bold"}, "value": "normal"}, "labelFontSize": {"condition": {"test": "month(datum.value)==0", "value": 12}, "value": 11}, "labelOverlap": false, "labelFlush": false, "labelBound": false, "labelPadding": 1, "ticks": false, "domain": false, "grid": true, "gridColor": {"condition": {"test": "month(datum.value)==0", "value": "#b8b8b8"}, "value": "#e2e2e2"}, "gridOpacity": {"condition": {"test": "month(datum.value)%3==0", "value": 1}, "value": 0}, "labelColor": "#222222", "labelFont": "Liberation Sans"}},
"x2": {"field": "date2"},
"y": {"field": "v", "type": "quantitative", "scale": {"type": "log", "domain": [42.15, 85.8], "nice": false, "zero": false},
"axis": {"title": null, "orient": "right", "values": [42.5,45,47.5,50,52.5,55,57.5,60,62.5,65,67.5,70,72.5,75,77.5,80,82.5,85], "format": ".1f", "grid": true, "gridColor": "#e4e4e4", "domain": false, "tickSize": 3, "tickColor": "#999999", "labelFontSize": 12, "labelColor": "#333333", "labelPadding": 2, "labelFont": "Liberation Sans"}},
"y2": {"field": "v2"},
"color": {"datum": "$GOLD:XLF (Daily) 63.06", "scale": {"range": ["#000000"]}, "condition": {"test": "datum.v2 < datum.v", "value": "#cc1744"},
"legend": {"orient": "top-left", "title": null, "offset": 2, "padding": 2, "fillColor": "white", "labelFont": "DejaVu Sans Mono", "labelFontSize": 12.5, "labelLimit": 400, "labelColor": "#000000", "symbolType": "stroke", "symbolStrokeWidth": 3, "symbolSize": 70, "symbolStrokeColor": "#000000"}}
}
},
{
"width": 1054,
"height": 154,
"data": {"name": "vix"},
"mark": {"type": "line", "strokeWidth": 1.8, "interpolate": "linear"},
"encoding": {
"x": {"field": "date", "type": "temporal", "scale": {"domain": ["2015-03-04", "2020-03-10"], "nice": false},
"axis": {"title": null, "orient": "bottom", "tickCount": {"interval": "month", "step": 1}, "labelExpr": "month(datum.value)==0 ? timeFormat(datum.value,'%y') : slice(timeFormat(datum.value,'%b'),0,1)", "labelFontWeight": {"condition": {"test": "month(datum.value)==0", "value": "bold"}, "value": "normal"}, "labelFontSize": {"condition": {"test": "month(datum.value)==0", "value": 12}, "value": 11}, "labelOverlap": false, "labelFlush": false, "labelBound": false, "labelPadding": 1, "ticks": false, "domain": false, "grid": true, "gridColor": {"condition": {"test": "month(datum.value)==0", "value": "#b8b8b8"}, "value": "#e2e2e2"}, "gridOpacity": {"condition": {"test": "month(datum.value)%3==0", "value": 1}, "value": 0}, "labelColor": "#222222", "labelFont": "Liberation Sans"}},
"y": {"field": "v", "type": "quantitative", "scale": {"domain": [7.2, 42.8], "nice": false, "zero": false},
"axis": {"title": null, "orient": "right", "values": [10,15,20,25,30,35,40], "format": "d", "grid": true, "gridColor": "#e4e4e4", "domain": false, "tickSize": 3, "tickColor": "#999999", "labelFontSize": 12, "labelColor": "#333333", "labelPadding": 2, "labelFont": "Liberation Sans"}},
"color": {"datum": "$VIX 39.62", "scale": {"range": ["#000000"]},
"legend": {"orient": "top-left", "title": null, "offset": 2, "padding": 2, "fillColor": "white", "labelFont": "DejaVu Sans Mono", "labelFontSize": 12.5, "labelLimit": 400, "labelColor": "#000000", "symbolType": "stroke", "symbolStrokeWidth": 3, "symbolSize": 70, "symbolStrokeColor": "#000000"}}
}
}
]
}
],
"config": {
"view": {"stroke": "#999999", "strokeWidth": 1},
"font": "Liberation Sans"
}
}
